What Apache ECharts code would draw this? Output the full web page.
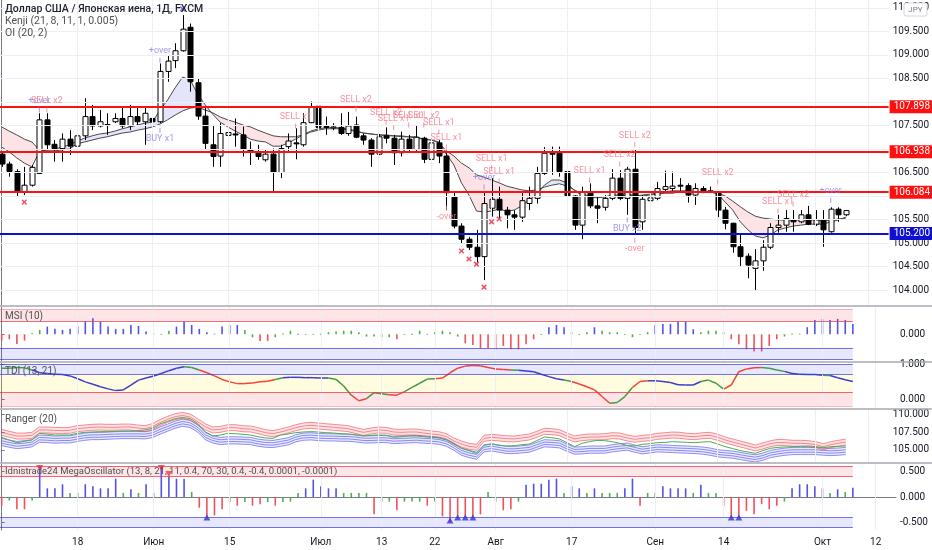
<!DOCTYPE html>
<html><head><meta charset="utf-8">
<script src="https://cdn.jsdelivr.net/npm/echarts@6/dist/echarts.min.js"></script>
<style>html,body{margin:0;padding:0;background:#fff}#c{width:932px;height:550px}</style>
</head><body><div id="c"></div>
<script>
// ---------- DATA ----------
const labelIdx  = [10,20,30,42,50,57,65,75,86,95,108,115];
const labelText = ['18','Июн','15','Июл','13','22','Авг','17','Сен','14','Окт','12'];
const priceTicks = [104,104.5,105,105.5,106,106.5,107,107.5,108,108.5,109,109.5,110];
const priceLabels = [104,104.5,105,105.5,106.5,107.5,108.5,109,109.5,110];
const resistLevels = [107.898,106.938,106.084];
const supportLevels = [105.200];
const lastPrice = 105.694;

// candles: [open, close, low, high]
const candles = [
[106.89,106.68,106.62,106.94],[106.68,106.52,106.41,106.73],[106.52,106.09,105.99,106.57],[106.09,106.23,106.02,106.62],[106.23,106.61,106.20,106.66],
[106.48,107.62,106.48,107.76],[107.62,107.09,106.98,107.76],[107.10,107.01,106.73,107.19],[107.01,107.21,106.73,107.33],[107.21,107.06,106.87,107.40],
[107.06,107.28,106.98,107.48],[107.28,107.69,107.19,108.08],[107.69,107.49,107.40,107.94],[107.49,107.58,107.46,107.83],[107.52,107.50,107.30,107.76],
[107.58,107.65,107.55,107.76],[107.65,107.49,107.44,107.90],[107.49,107.69,107.40,107.94],[107.69,107.58,107.51,107.90],[107.58,107.76,107.09,107.90],
[107.65,107.58,107.51,107.83],[107.58,108.65,107.55,108.82],[108.65,108.87,108.43,109.00],[108.88,109.09,108.72,109.25],[109.09,109.55,109.07,109.85],
[109.59,108.43,108.22,109.67],[108.41,107.70,107.62,108.50],[107.70,107.12,106.98,107.90],[107.09,106.84,106.62,107.51],[106.85,107.33,106.62,107.55],
[107.29,107.35,106.98,107.69],[107.32,107.31,107.05,107.65],[107.30,106.99,106.84,107.48],[106.99,106.94,106.66,107.16],[106.94,106.84,106.77,107.09],
[106.77,106.89,106.73,106.98],[106.89,106.50,106.07,107.01],[106.50,107.01,106.38,107.09],[107.05,107.17,106.94,107.33],[107.13,107.12,106.78,107.44],
[107.09,107.56,107.05,107.76],[107.56,107.90,107.55,108.01],[107.91,107.46,107.40,108.15],[107.48,107.47,107.30,107.69],[107.46,107.47,107.40,107.55],
[107.46,107.33,107.30,107.76],[107.33,107.49,107.28,107.79],[107.51,107.25,107.23,107.69],[107.28,107.19,107.09,107.33],[107.19,106.89,106.62,107.23],
[106.89,107.26,106.87,107.32],[107.28,107.23,107.12,107.46],[107.23,106.92,106.66,107.30],[106.92,107.21,106.84,107.37],[107.21,106.99,106.94,107.30],
[106.99,107.25,106.96,107.51],[107.23,106.78,106.70,107.26],[106.78,107.13,106.77,107.19],[107.13,106.85,106.70,107.19],[106.85,106.07,105.70,106.94],
[105.99,105.36,105.31,106.07],[105.36,105.08,104.99,105.42],[105.08,104.91,104.85,105.13],[104.91,104.71,104.50,105.28],[104.71,105.84,104.21,106.06],
[105.74,105.93,105.56,106.38],[105.93,105.70,105.52,106.20],[105.70,105.60,105.31,105.77],[105.60,105.55,105.28,105.70],[105.55,105.90,105.45,106.09],
[105.84,105.95,105.70,106.20],[105.95,106.48,105.84,106.62],[106.48,106.91,106.45,107.04],[106.91,106.90,106.45,107.05],[106.91,106.52,106.41,107.05],
[106.52,106.00,105.95,106.55],[106.00,105.38,105.28,106.02],[105.38,106.09,105.08,106.20],[106.07,105.79,105.74,106.27],[105.79,105.74,105.42,105.99],
[105.76,105.95,105.69,106.02],[105.95,106.38,105.91,106.57],[106.38,105.95,105.91,106.55],[105.95,106.57,105.60,106.62],[106.57,105.33,105.21,106.98],
[105.45,105.93,105.28,106.02],[105.90,105.96,105.62,106.09],[105.95,106.16,105.91,106.30],[106.14,106.20,106.06,106.54],[106.16,106.21,106.06,106.52],
[106.23,106.22,106.07,106.38],[106.22,106.02,105.86,106.27],[106.02,106.16,105.81,106.27],[106.16,106.09,106.06,106.21],[106.11,106.10,106.06,106.20],
[106.07,105.70,105.55,106.09],[105.70,105.42,105.29,105.77],[105.42,104.92,104.79,105.43],[104.92,104.71,104.50,105.19],[104.72,104.53,104.25,104.78],
[104.46,104.62,104.00,104.87],[104.62,104.91,104.41,105.06],[104.91,105.33,104.87,105.42],[105.33,105.38,105.22,105.60],[105.38,105.52,105.24,105.70],
[105.49,105.45,105.24,105.70],[105.45,105.60,105.42,105.70],[105.60,105.40,105.38,105.79],[105.40,105.49,105.36,105.70],[105.48,105.28,104.92,105.70],
[105.24,105.72,105.22,105.76],[105.72,105.60,105.45,105.76],[105.60,105.69,105.57,105.70]
];

const kenjiFast = [
107.04,106.94,106.81,106.70,106.62,106.94,106.98,107.00,107.04,107.09,
107.17,107.23,107.28,107.32,107.34,107.38,107.43,107.47,107.51,107.55,
107.57,107.83,108.04,108.30,108.53,108.47,108.17,107.94,107.74,107.57,
107.47,107.38,107.30,107.21,107.17,107.15,107.06,107.06,107.13,107.21,
107.30,107.38,107.43,107.45,107.45,107.45,107.43,107.38,107.34,107.32,
107.30,107.30,107.28,107.28,107.26,107.26,107.21,107.19,107.15,106.89,
106.66,106.28,106.02,105.68,105.66,105.68,105.72,105.68,105.70,105.79,
105.91,106.04,106.23,106.34,106.34,106.28,106.11,106.02,105.98,105.96,
105.98,106.02,106.02,106.06,106.00,106.02,106.04,106.06,106.09,106.11,
106.11,106.11,106.09,106.09,106.09,106.04,105.87,105.70,105.45,105.28,
105.15,105.11,105.17,105.28,105.32,105.36,105.38,105.40,105.40,105.40,
105.45,105.49,105.55];
const kenjiSlow = [
107.47,107.38,107.30,107.21,107.15,106.98,106.96,106.96,106.98,107.00,
107.11,107.15,107.19,107.23,107.26,107.30,107.34,107.36,107.40,107.43,
107.47,107.53,107.62,107.72,107.81,107.87,107.89,107.83,107.77,107.68,
107.62,107.57,107.51,107.47,107.40,107.34,107.28,107.26,107.26,107.26,
107.30,107.36,107.40,107.43,107.43,107.43,107.40,107.38,107.34,107.32,
107.30,107.28,107.28,107.26,107.26,107.23,107.21,107.19,107.13,106.96,
106.85,106.70,106.60,106.45,106.40,106.34,106.28,106.21,106.17,106.13,
106.11,106.13,106.19,106.23,106.26,106.21,106.13,106.04,106.00,105.98,
105.98,106.00,106.00,106.02,106.00,106.00,106.02,106.04,106.06,106.06,
106.09,106.09,106.09,106.09,106.09,106.06,106.00,105.89,105.77,105.66,
105.57,105.53,105.51,105.49,105.49,105.49,105.49,105.49,105.49,105.47,
105.49,105.51,105.53];

// signal labels on the price pane
const sigIdx   = [5,6,21,21,39,47,51,52,54,56,58,59,59,64,65,66,78,82,84,83,84,95,103,105,110];
const sigPrice = [107.83,107.83,108.89,107.40,107.49,107.85,107.57,107.45,107.51,107.51,107.36,107.04,105.74,106.19,106.60,106.32,106.34,106.68,107.09,105.49,105.06,106.30,105.68,105.83,105.91];
const sigText  = ['+over','SELL x2','+over','BUY x1','SELL x1','SELL x2','SELL x2','SELL x1','SELL x1','SELL x2','SELL x1','SELL x1','-over','+over','SELL x1','SELL x1','SELL x1','SELL x2','SELL x2','BUY x2','-over','SELL x2','SELL x1','SELL x2','+over'];
const sigSide  = ['up','up','up','dn','up','up','up','up','up','up','up','up','dn','up','up','up','up','up','up','dn','dn','up','up','up','up'];
const sigKind  = ['b','s','b','b','s','s','s','s','s','s','s','s','s','b','s','s','s','s','s','b','s','s','s','s','b'];
const xMarkIdx   = [3,24,61,62,63,64,65,66];
const xMarkPrice = [105.87,109.98,104.83,104.66,104.55,104.06,105.45,105.51];
const xMarkKind  = ['s','b','s','s','s','s','s','s'];

// MSI (10)
const msiValues = [
-0.47,-0.37,-0.72,-0.47,0.07,0.32,0.57,0.40,0.32,0.40,
0.57,0.94,1.19,0.94,0.57,0.40,0.40,0.69,0.62,0.20,
0.05,0.03,0.27,0.57,0.94,0.69,0.40,0.15,0.05,0.57,
0.69,0.69,0.32,-0.22,-0.49,-0.49,-0.22,0.05,0.27,0.03,
0.03,0.03,0.03,0.15,0.20,0.27,0.27,0.15,-0.17,-0.17,
-0.22,-0.22,-0.37,0.03,0.03,0.27,0.03,0.15,0.27,0.15,
-0.17,-0.67,-0.79,-1.04,-1.04,-1.11,-0.86,-1.11,-1.11,-0.74,
-0.37,0.02,0.52,0.69,0.52,0.15,-0.05,0.15,0.52,0.27,
0.15,0.15,-0.05,-0.22,-0.05,0.15,0.69,0.77,0.77,0.94,
0.94,0.37,0.15,0.27,0.27,0.15,-0.37,-0.74,-1.11,-1.28,
-1.28,-0.86,-0.37,-0.17,0.05,0.05,0.52,1.06,1.14,1.06,
1.14,1.06,0.77];
const msiState = [
-1,-1,-1,-1,0,0,1,1,1,1, 1,1,1,1,1,1,1,1,1,1, 0,0,0,1,1,1,1,1,0,1,
1,1,0,0,-1,-1,0,0,0,0, 0,0,0,0,0,0,0,0,0,0, 0,0,-1,0,0,0,0,0,0,0,
0,-1,-1,-1,-1,-1,-1,-1,-1,-1, -1,0,1,1,1,0,0,0,1,0, 0,0,0,0,0,0,1,1,1,1,
1,1,0,0,0,0,-1,-1,-1,-1, -1,-1,-1,0,0,0,1,1,1,1, 1,1,1];
const msiLevels = [1.85,1,-1,-1.85];

// TDI (13, 21)
const tdiValues = [
0.88,0.88,0.90,0.89,0.83,0.75,0.73,0.71,0.70,0.66,
0.58,0.49,0.42,0.35,0.29,0.24,0.26,0.40,0.54,0.60,
0.66,0.73,0.81,0.88,0.92,0.90,0.83,0.75,0.66,0.56,
0.49,0.44,0.44,0.46,0.49,0.51,0.56,0.61,0.62,0.62,
0.61,0.61,0.60,0.60,0.56,0.37,0.11,-0.05,0.01,0.18,
0.15,0.12,0.11,0.21,0.33,0.45,0.57,0.58,0.60,0.75,
0.88,0.94,0.96,0.95,0.90,0.86,0.84,0.83,0.82,0.80,
0.78,0.71,0.64,0.58,0.54,0.50,0.43,0.35,0.26,0.07,
-0.12,-0.10,0.07,0.33,0.50,0.52,0.52,0.50,0.47,0.41,
0.40,0.40,0.50,0.54,0.45,0.28,0.40,0.78,0.86,0.89,
0.90,0.88,0.83,0.79,0.73,0.71,0.70,0.70,0.68,0.67,
0.61,0.55,0.50];
const tdiState = [
0,0,0,0,0,1,1,1,1,1, 1,1,1,1,1,1,1,1,1,1, 1,1,1,1,1,0,0,-1,-1,-1,
-1,-1,-1,-1,-1,-1,-1,0,1,1, 1,1,1,1,0,0,0,-1,-1,0, 0,0,-1,-1,0,0,0,0,-1,-1,
-1,-1,-1,-1,-1,-1,-1,-1,0,1, 1,1,1,1,1,0,-1,-1,-1,-1, -1,0,0,0,-1,-1,1,1,1,1,
1,1,1,0,0,0,-1,-1,-1,-1, -1,0,0,0,1,1,1,1,1,0, 1,1,1];
const tdiLevels = [1,0.7,0.2,-0.2];

// Ranger (20)
const rangerRed = [
107.45,107.18,106.94,106.94,107.04,107.78,107.78,107.73,107.69,107.73,
107.96,108.06,108.15,108.19,108.15,108.15,108.19,108.19,108.06,107.96,
108.24,108.80,109.26,109.63,109.81,109.58,108.94,108.24,107.78,107.87,
108.10,108.10,107.96,107.92,107.69,107.41,107.27,107.50,107.78,108.10,
108.33,108.43,108.33,108.24,108.15,108.06,107.96,107.69,107.45,107.64,
107.78,107.73,107.50,107.45,107.50,107.50,107.36,107.22,107.13,106.85,
106.25,105.83,105.51,105.37,106.62,106.76,106.67,106.57,106.53,106.67,
106.81,107.18,107.59,107.55,107.41,106.94,106.53,106.71,106.81,106.81,
106.85,106.99,106.94,106.67,106.48,106.62,106.71,106.90,106.99,107.08,
107.04,106.90,106.85,106.99,107.04,106.76,106.39,106.11,105.83,105.56,
105.28,105.56,105.88,106.06,106.02,105.93,105.93,105.88,105.74,105.46,
105.74,105.93,106.11];
const rangerMid = [
106.76,106.39,106.02,106.20,106.39,107.31,107.22,107.08,107.08,107.08,
107.31,107.45,107.50,107.55,107.55,107.59,107.64,107.64,107.69,107.78,
108.01,108.61,108.98,109.35,109.54,109.35,108.70,107.55,106.94,107.08,
107.31,107.27,107.18,107.08,106.85,106.67,106.62,107.08,107.22,107.41,
107.50,107.55,107.50,107.41,107.36,107.27,107.22,107.08,106.94,107.04,
107.08,107.04,106.76,106.85,106.94,106.94,106.85,106.76,106.67,106.39,
105.83,105.23,104.91,104.54,105.65,105.83,105.65,105.56,105.60,105.74,
105.83,106.30,106.81,106.71,106.53,106.02,105.46,105.93,106.16,106.34,
106.30,106.16,105.93,105.60,105.56,105.79,105.88,106.02,106.06,106.16,
106.11,106.06,106.02,106.11,106.16,105.83,105.46,105.19,104.91,104.72,
104.54,104.91,105.23,105.37,105.42,105.46,105.51,105.56,105.46,105.32,
105.46,105.51,105.56];
const rangerBlue = [
106.11,105.88,105.69,105.79,105.93,106.57,106.53,106.44,106.48,106.48,
106.67,106.85,106.94,106.94,106.99,107.04,107.08,107.08,107.08,107.04,
107.22,107.69,108.10,108.52,108.80,108.61,108.01,106.94,106.48,106.25,
106.34,106.34,106.30,106.25,106.02,105.88,105.83,106.02,106.20,106.62,
106.85,106.90,106.81,106.76,106.76,106.71,106.71,106.62,106.48,106.48,
106.53,106.53,106.39,106.44,106.48,106.53,106.44,106.39,106.30,106.02,
105.46,104.77,104.44,104.21,105.23,105.37,105.19,105.00,105.00,105.09,
105.19,105.56,105.93,105.88,105.79,105.32,104.91,104.95,105.05,105.05,
105.05,105.23,105.37,105.46,105.19,104.95,105.09,105.23,105.19,105.14,
105.09,105.05,105.00,104.91,104.77,104.54,104.44,104.35,104.17,103.98,
103.84,104.07,104.44,104.63,104.77,104.86,104.86,104.86,104.86,104.77,
104.72,104.77,104.86];
const rangerTicks = [105,107.5,110];

// Idnistrade24 MegaOscillator
const megaValues = [
-0.17,-0.07,-0.24,-0.24,-0.07,0.62,0.17,0.17,0.25,0.08,
0.08,0.25,0.21,0.17,0.17,0.36,0.08,0.15,0.08,0.25,
0.08,0.62,0.40,0.36,0.36,0.10,-0.21,-0.38,-0.36,-0.24,
-0.10,-0.17,-0.10,-0.17,-0.14,-0.10,-0.17,-0.10,-0.09,0.08,
0.17,0.34,0.21,0.17,0.17,0.08,0.08,0.08,0.08,-0.34,
-0.09,-0.09,-0.26,-0.09,-0.09,-0.09,-0.17,-0.09,-0.38,-0.48,
-0.38,-0.38,-0.38,-0.34,0.10,-0.09,-0.26,-0.24,-0.09,0.24,
0.26,0.26,0.34,0.36,0.08,0.21,0.17,0.08,0.17,0.08,
0.08,0.08,0.17,0.36,-0.17,0.08,0.08,0.21,0.17,0.17,
0.17,0.08,0.24,0.08,0.08,-0.17,-0.38,-0.38,-0.27,-0.34,
-0.14,-0.24,-0.17,-0.09,0.17,0.25,0.25,0.21,0.17,0.08,
0.15,0.10,0.18];
const megaState = [
-1,0,-1,-1,0,1,1,1,1,0, 0,1,1,1,1,1,0,1,0,1, 0,1,1,1,1,0,-1,-1,-1,-1,
0,-1,0,-1,-1,0,-1,0,0,0, 1,1,1,1,1,0,0,0,0,-1, 0,0,-1,0,0,0,-1,0,-1,-1,
-1,-1,-1,-1,0,0,-1,-1,0,1, 1,1,1,1,0,1,1,0,1,0, 0,0,1,1,-1,0,0,1,1,1,
1,0,1,0,0,-1,-1,-1,-1,-1, -1,-1,-1,0,1,1,1,1,1,0, 1,0,1];
const megaTopIdx = [5,21,22];
const megaTopVal = [0.57,0.57,0.45];
const megaBotIdx = [27,59,60,61,62,96,97];
const megaBotVal = [-0.40,-0.46,-0.40,-0.40,-0.40,-0.40,-0.40];
const megaLevels = [0.6,0.4,-0.4,-0.6];
const megaTicks = [-0.5,0,0.5];

// ---------- CHART ----------
const xMin = -0.224, xMax = 117.68, lastIdx = candles.length - 1;
const FONT = 'Roboto, "Noto Sans", sans-serif';
const PINK = '#f2798a', PURPLE = '#8c80e0';
const stateColor = s => s > 0 ? '#5252e8' : (s < 0 ? '#f0505e' : '#4caf50');
const tdiColor = s => s > 0 ? '#3d3dcc' : (s < 0 ? '#f44336' : '#3f9d43');
const grids = [
  {left:0, right:36, top:0, height:305},
  {left:0, right:36, top:307, height:54},
  {left:0, right:36, top:363, height:45},
  {left:0, right:36, top:410, height:52},
  {left:0, right:36, top:464, height:66}
];
const xAxes = grids.map((g,k)=>({
  type:'value', gridIndex:k, min:xMin, max:xMax, show:k===4,
  axisLine:{show:true, lineStyle:{color:'#787b86'}},
  axisTick:{show:false, customValues:labelIdx},
  axisLabel:{show:true, customValues:labelIdx, color:'#131722', fontSize:10, margin:7, fontFamily:FONT,
    formatter:v=>labelText[labelIdx.indexOf(Math.round(v))] || ''},
  splitLine:{show:false}
}));
function yAx(gi, min, max, vals){
  return {type:'value', gridIndex:gi, position:'right', min, max,
    axisLine:{show:true, lineStyle:{color:'#787b86'}},
    axisTick:{show:true, customValues:vals, length:3, lineStyle:{color:'#787b86'}},
    axisLabel:{show:true, customValues:vals, formatter:v=>v.toFixed(3), color:'#131722', fontSize:10, margin:4, fontFamily:FONT},
    splitLine:{show:false}};
}
const yAxes = [
  yAx(0, 103.681, 110.170, priceLabels),
  yAx(1, -1.98, 2.02, [0]),
  yAx(2, -0.257, 1.029, [0,1]),
  yAx(3, 103.33, 110.56, rangerTicks),
  yAx(4, -0.647, 0.647, megaTicks)
];
const vGrid = labelIdx.map(v=>({xAxis:v}));
function gridSeries(gi, extra){
  return {type:'line', xAxisIndex:gi, yAxisIndex:gi, data:[], silent:true, z:0, animation:false,
    markLine:{silent:true, symbol:['none','none'], animation:false, label:{show:false},
      lineStyle:{color:'#eceff5', width:1, type:'solid'}, data:vGrid.concat(extra||[])}};
}
function bandSeries(gi, levels, fills, lineCols){
  const areas = [[{coord:[xMin,levels[0]], itemStyle:{color:fills[0]}},{coord:[lastIdx,levels[1]]}]];
  if (fills.length===3) areas.push([{coord:[xMin,levels[1]], itemStyle:{color:fills[1]}},{coord:[lastIdx,levels[2]]}]);
  areas.push([{coord:[xMin,levels[2]], itemStyle:{color:fills[fills.length-1]}},{coord:[lastIdx,levels[3]]}]);
  return {type:'line', xAxisIndex:gi, yAxisIndex:gi, data:[], silent:true, z:1, animation:false,
    markArea:{silent:true, animation:false, data:areas},
    markLine:{silent:true, symbol:['none','none'], animation:false, label:{show:false},
      data: levels.map((v,k)=>[{coord:[xMin,v], lineStyle:{color:lineCols[k], width:1, type:'solid'}},{coord:[lastIdx,v]}])}};
}
const PF = 'rgba(242,54,69,0.13)', BF = 'rgba(70,80,240,0.13)', YF = 'rgba(255,235,59,0.16)';
const RL = 'rgba(242,54,69,0.75)', RL2 = 'rgba(242,54,69,0.35)', BL = 'rgba(60,60,220,0.7)';

function barRender(states){
  return (params, api)=>{
    const i = api.value(0), v = api.value(1);
    const a = api.coord([i,0]), b = api.coord([i,v]);
    return {type:'rect', shape:{x:a[0]-0.8, y:Math.min(a[1],b[1]), width:1.6, height:Math.max(Math.abs(b[1]-a[1]),0.8)},
      style:{fill:stateColor(states[i])}};
  };
}
function bandRender(offsets, lineCol, fillCol){
  return (params, api)=>{
    const i = api.value(0);
    const a = api.coord([i-1, api.value(1)]), b = api.coord([i, api.value(2)]);
    const lo = offsets[0], hi = offsets[offsets.length-1];
    const ch = [{type:'polygon', shape:{points:[[a[0],a[1]+lo],[b[0],b[1]+lo],[b[0],b[1]+hi],[a[0],a[1]+hi]]}, style:{fill:fillCol}}];
    offsets.forEach(o=>ch.push({type:'line', shape:{x1:a[0],y1:a[1]+o,x2:b[0],y2:b[1]+o}, style:{stroke:lineCol, lineWidth:0.8}}));
    return {type:'group', children:ch};
  };
}
const seg = arr => arr.slice(1).map((v,k)=>[k+1, arr[k], v]);

const series = [
  gridSeries(0, priceTicks.map(v=>({yAxis:v}))),
  { // Kenji fill
    type:'custom', xAxisIndex:0, yAxisIndex:0, z:1, silent:true, clip:true, animation:false,
    data: kenjiFast.slice(1).map((f,k)=>[k+1, kenjiFast[k], kenjiSlow[k], f, kenjiSlow[k+1]]),
    renderItem:(params, api)=>{
      const i=api.value(0), f0=api.value(1), s0=api.value(2), f1=api.value(3), s1=api.value(4);
      const P=(x,y)=>api.coord([x,y]); const col=d=>d>=0?'rgba(90,90,230,0.16)':'rgba(242,54,69,0.14)';
      const d0=f0-s0, d1=f1-s1;
      if (d0*d1 >= 0) return {type:'polygon', shape:{points:[P(i-1,f0),P(i,f1),P(i,s1),P(i-1,s0)]}, style:{fill:col(d0+d1)}};
      const t=d0/(d0-d1), xm=i-1+t, ym=f0+(f1-f0)*t;
      return {type:'group', children:[
        {type:'polygon', shape:{points:[P(i-1,f0),P(xm,ym),P(i-1,s0)]}, style:{fill:col(d0)}},
        {type:'polygon', shape:{points:[P(xm,ym),P(i,f1),P(i,s1)]}, style:{fill:col(d1)}}]};
    }
  },
  {type:'line', xAxisIndex:0, yAxisIndex:0, z:2, symbol:'none', silent:true, animation:false,
    data:kenjiSlow.map((v,i)=>[i,v]), lineStyle:{color:'#4a4a4a', width:1}},
  {type:'line', xAxisIndex:0, yAxisIndex:0, z:2, symbol:'none', silent:true, animation:false,
    data:kenjiFast.map((v,i)=>[i,v]), lineStyle:{color:'#4a4a4a', width:1}},
  { // candles
    type:'custom', xAxisIndex:0, yAxisIndex:0, z:3, silent:true, clip:true, animation:false,
    data: candles.map((d,i)=>[i, d[0], d[1], d[2], d[3]]),
    encode:{x:0, y:[1,2,3,4]},
    renderItem:(params, api)=>{
      const i=api.value(0), o=api.value(1), c=api.value(2), l=api.value(3), h=api.value(4);
      const pO=api.coord([i,o]), pC=api.coord([i,c]), pL=api.coord([i,l]), pH=api.coord([i,h]);
      const x=Math.round(pO[0])+0.5, w=5;
      const top=Math.min(pO[1],pC[1]), bot=Math.max(pO[1],pC[1]);
      return {type:'group', children:[
        {type:'line', shape:{x1:x,y1:pH[1],x2:x,y2:pL[1]}, style:{stroke:'#000', lineWidth:1}},
        {type:'rect', shape:{x:x-w/2, y:top, width:w, height:Math.max(bot-top,1)}, style:{fill:c>=o?'#fff':'#000', stroke:'#000', lineWidth:1}}
      ]};
    }
  },
  { // levels
    type:'line', xAxisIndex:0, yAxisIndex:0, data:[], z:10, silent:true, clip:false, animation:false,
    markLine:{silent:true, symbol:['none','none'], animation:false,
      data: resistLevels.map(v=>({yAxis:v, lineStyle:{color:'#ff1010', width:2, type:'solid'},
          label:{show:true, position:'end', formatter:v.toFixed(3), color:'#fff', backgroundColor:'#ff1010', padding:[2,3,1,4], fontSize:10, fontFamily:FONT, distance:1}}))
        .concat(supportLevels.map(v=>({yAxis:v, lineStyle:{color:'#1010d0', width:2, type:'solid'},
          label:{show:true, position:'end', formatter:v.toFixed(3), color:'#fff', backgroundColor:'#1010d0', padding:[2,3,1,4], fontSize:10, fontFamily:FONT, distance:1}})))
        .concat([{yAxis:lastPrice, lineStyle:{opacity:0},
          label:{show:true, position:'end', formatter:'- '+lastPrice.toFixed(3), color:'#131722', fontSize:10, fontFamily:FONT, distance:1}}])
    }
  },
  { // signals
    type:'scatter', xAxisIndex:0, yAxisIndex:0, z:11, silent:true, animation:false,
    symbol:'rect', symbolSize:[1,5],
    data: sigIdx.map((x,k)=>{ const col = sigKind[k]==='b'?PURPLE:PINK; return {
      value:[x, sigPrice[k]], itemStyle:{color:col},
      label:{show:true, position:sigSide[k]==='up'?'top':'bottom', distance:2, formatter:sigText[k], color:col, fontSize:9, fontFamily:FONT}}; })
  },
  { // x marks
    type:'custom', xAxisIndex:0, yAxisIndex:0, z:11, silent:true, animation:false,
    data: xMarkIdx.map((x,k)=>[x, xMarkPrice[k], xMarkKind[k]==='b'?1:0]),
    renderItem:(params, api)=>{
      const p=api.coord([api.value(0), api.value(1)]); const col=api.value(2)?'#7a6fe0':'#f0505e'; const r=2.3;
      return {type:'group', children:[
        {type:'line', shape:{x1:p[0]-r,y1:p[1]-r,x2:p[0]+r,y2:p[1]+r}, style:{stroke:col, lineWidth:1.5}},
        {type:'line', shape:{x1:p[0]-r,y1:p[1]+r,x2:p[0]+r,y2:p[1]-r}, style:{stroke:col, lineWidth:1.5}}]};
    }
  },
  // MSI
  gridSeries(1), bandSeries(1, msiLevels, [PF, BF], [RL2, RL, BL, BL]),
  {type:'custom', xAxisIndex:1, yAxisIndex:1, z:3, silent:true, animation:false,
    data: msiValues.map((v,i)=>[i,v]), renderItem: barRender(msiState)},
  // TDI
  gridSeries(2), bandSeries(2, tdiLevels, [BF, YF, PF], [BL, BL, RL, RL2]),
  {type:'custom', xAxisIndex:2, yAxisIndex:2, z:3, silent:true, animation:false,
    data: seg(tdiValues),
    renderItem:(params, api)=>{
      const i=api.value(0); const a=api.coord([i-1, api.value(1)]), b=api.coord([i, api.value(2)]);
      return {type:'line', shape:{x1:a[0],y1:a[1],x2:b[0],y2:b[1]}, style:{stroke:tdiColor(tdiState[i]), lineWidth:1.5}};
    }},
  // Ranger
  gridSeries(3),
  {type:'custom', xAxisIndex:3, yAxisIndex:3, z:3, silent:true, animation:false, clip:true,
    data: seg(rangerBlue), renderItem: bandRender([-3.6,-1.2,1.2,3.6], 'rgba(70,70,235,0.75)', 'rgba(90,90,240,0.13)')},
  {type:'custom', xAxisIndex:3, yAxisIndex:3, z:3, silent:true, animation:false, clip:true,
    data: seg(rangerRed), renderItem: bandRender([-3,0,3], 'rgba(242,70,80,0.75)', 'rgba(242,54,69,0.14)')},
  {type:'line', xAxisIndex:3, yAxisIndex:3, z:4, symbol:'none', silent:true, animation:false,
    data: rangerMid.map((v,i)=>[i,v]), lineStyle:{color:'#4caf50', width:1}},
  // Mega oscillator
  gridSeries(4), bandSeries(4, megaLevels, [PF, BF], [RL, RL, BL, BL]),
  {type:'custom', xAxisIndex:4, yAxisIndex:4, z:3, silent:true, animation:false,
    data: megaValues.map((v,i)=>[i,v]), renderItem: barRender(megaState)},
  {type:'scatter', xAxisIndex:4, yAxisIndex:4, z:5, silent:true, animation:false,
    symbol:'triangle', symbolRotate:180, symbolSize:[7,6], itemStyle:{color:'#f23645'},
    data: megaTopIdx.map((x,k)=>[x, megaTopVal[k]])},
  {type:'scatter', xAxisIndex:4, yAxisIndex:4, z:5, silent:true, animation:false,
    symbol:'triangle', symbolSize:[7,6], itemStyle:{color:'#3030d8'},
    data: megaBotIdx.map((x,k)=>[x, megaBotVal[k]])}
];

const sepYs = [306, 362, 409, 463];
const graphic = sepYs.map(y=>({type:'line', silent:true, z:100, shape:{x1:0,y1:y,x2:932,y2:y}, style:{stroke:'#a5a8b0', lineWidth:1.5}}))
.concat([
  {type:'text', left:5, top:4, z:100, style:{text:'Доллар США / Японская иена, 1Д, FXCM', fill:'#1e222d', font:'500 10.5px '+FONT}},
  {type:'text', left:5, top:16, z:100, style:{text:'Kenji (21, 8, 11, 1, 0.005)', fill:'#505050', font:'10.5px '+FONT}},
  {type:'text', left:5, top:28, z:100, style:{text:'OI (20, 2)', fill:'#505050', font:'10.5px '+FONT}},
  {type:'text', left:5, top:311, z:100, style:{text:'MSI (10)', fill:'#505050', font:'10px '+FONT}},
  {type:'text', left:5, top:366, z:100, style:{text:'TDI (13, 21)', fill:'#505050', font:'10px '+FONT}},
  {type:'text', left:5, top:414, z:100, style:{text:'Ranger (20)', fill:'#505050', font:'10px '+FONT}},
  {type:'text', left:5, top:467, z:100, style:{text:'Idnistrade24 MegaOscillator (13, 8, 21, 11, 0.4, 70, 30, 0.4, -0.4, 0.0001, -0.0001)', fill:'#505050', font:'9.5px '+FONT}},
  {type:'rect', z:100, shape:{x:904, y:3, width:23, height:13, r:2}, style:{fill:'#fff', stroke:'#d1d4dc', lineWidth:1}},
  {type:'text', z:101, x:915.5, y:9.5, style:{text:'JPY', fill:'#787b86', font:'8px '+FONT, align:'center', verticalAlign:'middle'}}
]);

const chart = echarts.init(document.getElementById('c'), null, {width:932, height:550});
chart.setOption({
  backgroundColor:'#fff', animation:false,
  textStyle:{fontFamily:FONT},
  grid: grids, xAxis: xAxes, yAxis: yAxes, series, graphic
});
</script>
</body></html>
